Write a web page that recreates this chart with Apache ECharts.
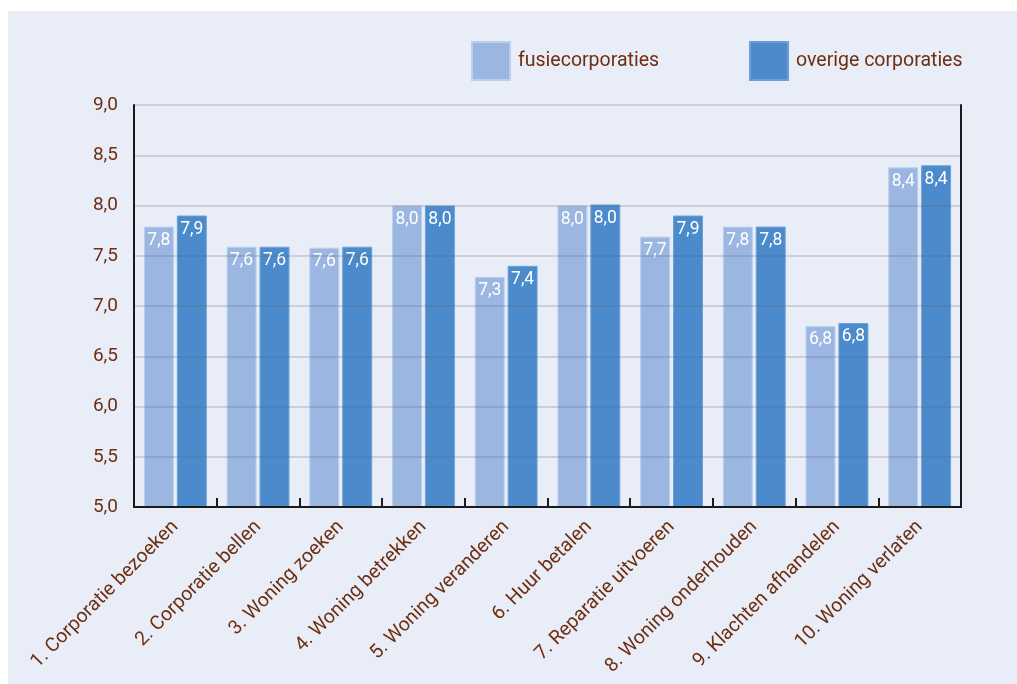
<!DOCTYPE html>
<html>
<head>
<meta charset="utf-8">
<script src="https://cdn.jsdelivr.net/npm/echarts@6/dist/echarts.min.js"></script>
<style>
html,body{margin:0;padding:0;background:#ffffff;width:1017px;height:684px;overflow:hidden;}
#c{position:absolute;left:8px;top:11px;width:1009px;height:673px;}
</style>
</head>
<body>
<div id="c"></div>
<script>
const categories = ["1. Corporatie bezoeken","2. Corporatie bellen","3. Woning zoeken","4. Woning betrekken","5. Woning veranderen","6. Huur betalen","7. Reparatie uitvoeren","8. Woning onderhouden","9. Klachten afhandelen","10. Woning verlaten"];
const fusie = [7.79, 7.59, 7.58, 8.0, 7.29, 8.0, 7.69, 7.79, 6.80, 8.38];
const overige = [7.90, 7.59, 7.59, 8.0, 7.40, 8.01, 7.90, 7.79, 6.83, 8.40];
const seriesNames = ["fusiecorporaties", "overige corporaties"];
const yTicks = {min: 5, max: 9, interval: 0.5};

const brown = '#6e2f10';
const font = 'Roboto, "Liberation Sans", sans-serif';
const fmt = v => v.toFixed(1).replace('.', ',');

const chart = echarts.init(document.getElementById('c'));
chart.setOption({
  backgroundColor: '#e9edf8',
  animation: false,
  textStyle: {fontFamily: font},
  legend: {
    left: 463, top: 30, padding: 0,
    itemWidth: 38, itemHeight: 38, itemGap: 90,
    icon: 'rect',
    textStyle: {color: brown, fontSize: 19.5, fontFamily: font, padding: [0,0,0,3]},
    data: seriesNames
  },
  grid: {left: 126, right: 56, top: 94, bottom: 177},
  xAxis: {
    type: 'category',
    data: categories,
    axisLine: {lineStyle: {color: '#1a1a1a', width: 2}},
    axisTick: {show: true, inside: true, length: 9, lineStyle: {color: '#1a1a1a', width: 2}},
    axisLabel: {rotate: 45, interval: 0, fontSize: 19.5, color: brown, margin: 17, fontFamily: font},
    z: 4
  },
  yAxis: [{
    type: 'value',
    min: yTicks.min, max: yTicks.max, interval: yTicks.interval,
    axisLine: {show: true, lineStyle: {color: '#1a1a1a', width: 2}},
    axisTick: {show: false},
    axisLabel: {formatter: fmt, fontSize: 19, color: brown, margin: 16, fontFamily: font},
    splitLine: {show: true, lineStyle: {color: 'rgba(90,90,100,0.2)', width: 2}},
    z: 3
  }, {
    type: 'value', position: 'right',
    min: yTicks.min, max: yTicks.max, interval: yTicks.interval,
    axisLine: {show: true, lineStyle: {color: '#1a1a1a', width: 2}},
    axisTick: {show: false}, axisLabel: {show: false}, splitLine: {show: false}
  }],
  series: [{
    name: seriesNames[0], type: 'bar', data: fusie,
    barGap: '10%', barCategoryGap: '24%',
    itemStyle: {color: '#9bb7e1', borderColor: '#bcd0ee', borderWidth: 1},
    label: {show: true, position: 'insideTop', distance: 5, color: '#ffffff', fontSize: 17.5, fontFamily: font, formatter: p => fmt(p.value)}
  }, {
    name: seriesNames[1], type: 'bar', data: overige,
    barGap: '10%', barCategoryGap: '24%',
    itemStyle: {color: '#4b8bcb', borderColor: '#6c9fd6', borderWidth: 1},
    label: {show: true, position: 'insideTop', distance: 5, color: '#ffffff', fontSize: 17.5, fontFamily: font, formatter: p => fmt(p.value)}
  }]
});
</script>
</body>
</html>
